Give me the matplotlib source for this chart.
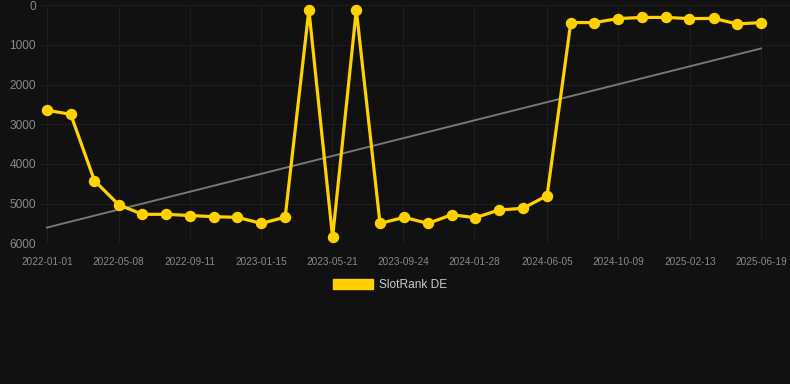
import matplotlib
matplotlib.use("Agg")
import matplotlib.pyplot as plt
import matplotlib.dates as mdates
import matplotlib.patches as mpatch
import numpy as np
import pandas as pd

dates = ["2022-01-01", "2022-02-12", "2022-03-26", "2022-05-08", "2022-06-19",
         "2022-07-31", "2022-09-11", "2022-10-23", "2022-12-04", "2023-01-16",
         "2023-02-27", "2023-04-10", "2023-05-22", "2023-07-03", "2023-08-14",
         "2023-09-26", "2023-11-07", "2023-12-19", "2024-01-30", "2024-03-12",
         "2024-04-23", "2024-06-05", "2024-07-17", "2024-08-28", "2024-10-09",
         "2024-11-20", "2025-01-01", "2025-02-12", "2025-03-27", "2025-05-08",
         "2025-06-19"]
rank = [2650, 2750, 4420, 5030, 5270, 5270, 5300, 5330, 5345, 5500,
        5340, 120, 5850, 120, 5500, 5345, 5500, 5280, 5355, 5160,
        5120, 4800, 440, 440, 340, 310, 310, 340, 335, 475, 440]
tick_labels = ["2022-01-01", "2022-05-08", "2022-09-11", "2023-01-15", "2023-05-21",
               "2023-09-24", "2024-01-28", "2024-06-05", "2024-10-09", "2025-02-13",
               "2025-06-19"]
yticks = [0, 1000, 2000, 3000, 4000, 5000, 6000]
series_name = "SlotRank DE"

bg = '#111111'
yellow = '#FFD100'

x = pd.to_datetime(dates)
xn = mdates.date2num(x)

fig = plt.figure(figsize=(7.9, 3.84), dpi=100, facecolor=bg)
ax = fig.add_axes([40/790, 1 - 243.3/384, 750/790, 238.2/384], facecolor=bg)

# trend line (least squares)
k, b = np.polyfit(xn, rank, 1)
ax.plot(xn, k*xn + b, color='#777777', lw=1.4, zorder=2)

ax.plot(xn, rank, color=yellow, lw=2.3, marker='o', ms=7.2,
        solid_joinstyle='miter', clip_on=False, zorder=3)

ax.set_ylim(6000, 0)
ax.set_xlim(xn[0] - 12.4, xn[-1] + 51.4)
ax.set_yticks(yticks)
ax.set_yticklabels([str(v) for v in yticks])
tpos = mdates.date2num(pd.to_datetime(tick_labels))
ax.set_xticks(tpos)
ax.set_xticklabels(tick_labels)

ax.grid(True, color='#1d1d1d', lw=0.8)
ax.set_axisbelow(True)
for s in ax.spines.values():
    s.set_visible(False)
ax.tick_params(axis='y', length=0, pad=3, labelsize=8.6, labelcolor='#8a8a8a',
               labelfontfamily='Liberation Sans')
ax.tick_params(axis='x', length=0, pad=10, labelsize=7.2, labelcolor='#8a8a8a',
               labelfontfamily='Liberation Sans')

handle = mpatch.Patch(facecolor=yellow, edgecolor=yellow)
fig.legend([handle], [series_name], loc='center', bbox_to_anchor=(390/790, 1 - 285/384),
           frameon=False, labelcolor='#cccccc', handlelength=3.3,
           handleheight=0.95, handletextpad=0.5,
           prop={'family': 'Liberation Sans', 'size': 8.6})

fig.savefig('out.png', dpi=100, facecolor=bg)
